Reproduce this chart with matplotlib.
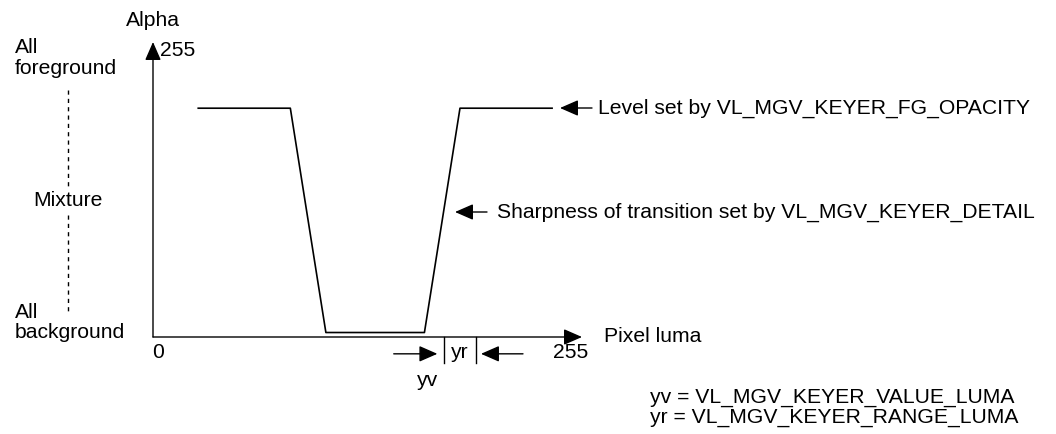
import matplotlib.pyplot as plt

plt.rcParams['font.family'] = ['Liberation Sans', 'DejaVu Sans']

# keyer transfer curve (luma, alpha)
luma = [28, 85, 107, 168, 190, 247]
alpha = [204, 204, 4, 4, 204, 204]
yv = 180
yr_end = 200

W, H = 1056, 434
fig = plt.figure(figsize=(W / 100, H / 100), dpi=100)
ax = fig.add_axes([153 / W, (H - 337) / H, (565 - 153) / W, 286 / H])
ax.set_xlim(0, 255)
ax.set_ylim(0, 255)
ax.axis('off')


def px(x, y):
    return (x / W, 1 - y / H)


ft = fig.transFigure
fs = 15.2
head = dict(arrowstyle='-|>,head_length=0.8,head_width=0.35', color='black', lw=1,
            shrinkA=0, shrinkB=0, mutation_scale=14)

# axes with arrows
ax.annotate('', xy=px(153, 42), xytext=px(153, 337), xycoords=ft, textcoords=ft,
            arrowprops=head)
ax.annotate('', xy=px(582, 337), xytext=px(153, 337), xycoords=ft, textcoords=ft,
            arrowprops=head)

ax.plot(luma, alpha, color='black', lw=1.2, clip_on=False)

fig.text(*px(153, 21), 'Alpha', ha='center', va='center', fontsize=fs)
fig.text(*px(160, 51), '255', ha='left', va='center', fontsize=fs)
fig.text(*px(158, 353), '0', ha='center', va='center', fontsize=fs)
fig.text(*px(571, 352), '255', ha='center', va='center', fontsize=fs)
fig.text(*px(604, 337), 'Pixel luma', ha='left', va='center', fontsize=fs)

# left-hand scale description
fig.text(*px(15, 74), 'All\nforeground', ha='left', va='baseline', fontsize=fs,
         linespacing=1.12)
fig.text(*px(15, 338.5), 'All\nbackground', ha='left', va='baseline', fontsize=fs,
         linespacing=1.1)
fig.text(*px(68, 200), 'Mixture', ha='center', va='center', fontsize=fs,
         bbox=dict(facecolor='white', edgecolor='none', pad=2))
fig.add_artist(plt.Line2D([68 / W, 68 / W], [1 - 90 / H, 1 - 312 / H], transform=ft,
                          color='black', lw=1, ls=(0, (3, 3))))

# annotations on the right
ax.annotate('', xy=px(560, 108), xytext=px(592, 108), xycoords=ft, textcoords=ft,
            arrowprops=head)
fig.text(*px(598, 108), 'Level set by VL_MGV_KEYER_FG_OPACITY', ha='left', va='center',
         fontsize=fs)
ax.annotate('', xy=px(455, 212), xytext=px(487, 212), xycoords=ft, textcoords=ft,
            arrowprops=head)
fig.text(*px(497, 212), 'Sharpness of transition set by VL_MGV_KEYER_DETAIL', ha='left',
         va='center', fontsize=fs)

# yv / yr markers below the axis
for x in (yv, yr_end):
    ax.plot([x, x], [0, -23], color='black', lw=1, clip_on=False)
ax.annotate('', xy=(yv - 4, -15), xytext=(yv - 31, -15), arrowprops=head,
            annotation_clip=False)
ax.annotate('', xy=(yr_end + 3, -15), xytext=(yr_end + 29, -15), arrowprops=head,
            annotation_clip=False)
fig.text(*px(460, 352), 'yr', ha='center', va='center', fontsize=fs)
fig.text(*px(428, 380), 'yv', ha='center', va='center', fontsize=fs)

fig.text(*px(650, 422.5), 'yv = VL_MGV_KEYER_VALUE_LUMA\nyr = VL_MGV_KEYER_RANGE_LUMA',
         ha='left', va='baseline', fontsize=fs, linespacing=1.05)

fig.savefig('out.png', dpi=100)
